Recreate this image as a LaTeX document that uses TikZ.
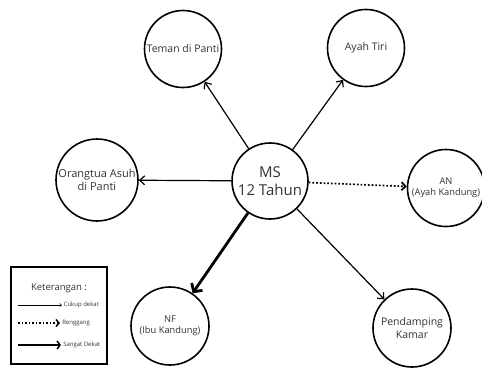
\documentclass[tikz,border=0pt]{standalone}
\usepackage{fontspec}
\setmainfont{Open Sans}
\usepackage{tikz}
\usetikzlibrary{calc, arrows.meta, positioning}

\newcommand{\fs}[1]{\fontsize{#1pt}{\dimexpr #1pt*6/5\relax}\selectfont}

\begin{document}
\begin{tikzpicture}[x=1pt, y=-1pt,
		orang/.style={draw, circle, line width=1.6pt, inner sep=0pt, align=center, text=black!80},
		dekat/.style={line width=1.2pt, -{Straight Barb[length=5pt, width=9pt]}},
		renggang/.style={line width=1.7pt, dotted, -{Straight Barb[length=4pt, width=8pt, line width=1.7pt]}},
		sangat/.style={line width=2.8pt, -{Straight Barb[length=6pt, width=13pt]}},
		ket/.style={font=\fs{6}, text=black!80, anchor=west, inner sep=1.5pt}]
			\useasboundingbox (0,0) rectangle (482,372);
			% tokoh
			\node[orang, minimum size=76pt, font=\fs{15}] (ms) at (270,181) {MS\\12 Tahun};
			\node[orang, minimum size=77pt, font=\fs{10.5}] (teman) at (183,49) {Teman di Panti};
			\node[orang, minimum size=77pt, font=\fs{10.5}] (ayah) at (366,48) {Ayah Tiri};
			\node[orang, minimum size=82pt, font=\fs{11}] (asuh) at (97,180) {Orangtua Asuh\\di Panti};
			\node[orang, minimum size=77pt, font=\fs{9.3}] (an) at (446,188) {AN\\(Ayah Kandung)};
			\node[orang, minimum size=78pt, font=\fs{9.3}] (nf) at (170,326) {NF\\(Ibu Kandung)};
			\node[orang, minimum size=78pt, font=\fs{10.5}] (damping) at (412,328) {Pendamping\\Kamar};
			% hubungan
			\draw[dekat] (ms) -- (teman);
			\draw[dekat] (ms) -- (ayah);
			\draw[dekat] (ms) -- (asuh);
			\draw[renggang] (ms) -- (an);
			\draw[sangat] (ms) -- (nf);
			\draw[dekat] (ms) -- (damping);
			% keterangan
			\node[draw, line width=1.6pt, minimum width=96pt, minimum height=97pt] (legenda) at (59,315.5) {};
			\node[font=\fs{9.5}, text=black!80] (judul) at (59,288) {Keterangan :};
			\coordinate (a1) at (18,305);
			\coordinate (a2) at (62,305);
			\coordinate (b1) at (18,323);
			\coordinate (b2) at (60,323);
			\coordinate (c1) at (18,345);
			\coordinate (c2) at (61,345);
			\draw[line width=0.5pt, -{Straight Barb[length=2pt, width=3pt]}] (a1) -- (a2) node[ket] {Cukup dekat};
			\draw[line width=1.5pt, dotted, -{Straight Barb[length=3pt, width=7pt, line width=1.5pt]}] (b1) -- (b2) node[ket] {Renggang};
			\draw[line width=1.5pt, -{Straight Barb[length=3pt, width=8pt]}] (c1) -- (c2) node[ket] {Sangat Dekat};
		\end{tikzpicture}
\end{document}
